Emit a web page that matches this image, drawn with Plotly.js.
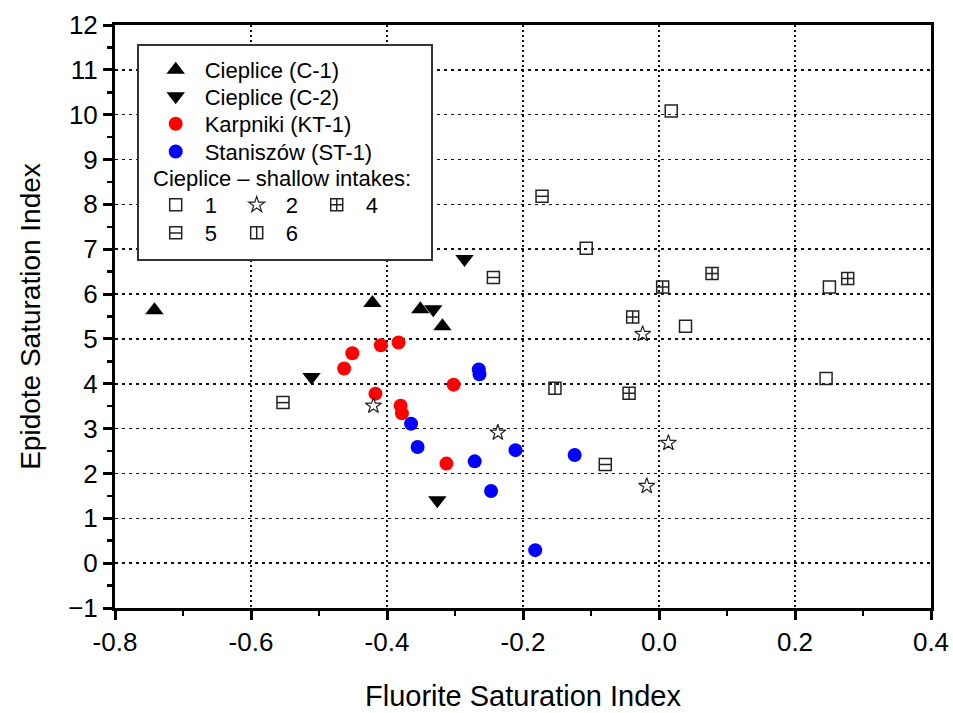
<!DOCTYPE html>
<html><head><meta charset="utf-8">
<script src="https://cdn.plot.ly/plotly-3.0.1.min.js"></script>
<style>html,body{margin:0;padding:0;background:#fff}#chart{width:953px;height:713px}</style>
</head><body><div id="chart"></div>
<script>
// Cieplice (C-1)
const c1X = [-0.742, -0.4215, -0.351, -0.3185];
const c1Y = [5.64, 5.80, 5.66, 5.28];
// Cieplice (C-2)
const c2X = [-0.286, -0.511, -0.332, -0.326];
const c2Y = [6.78, 4.15, 5.66, 1.40];
// Karpniki (KT-1)
const ktX = [-0.451, -0.463, -0.409, -0.383, -0.417, -0.380, -0.378, -0.302, -0.3126];
const ktY = [4.68, 4.34, 4.86, 4.92, 3.78, 3.51, 3.34, 3.98, 2.22];
// Staniszów (ST-1)
const stX = [-0.265, -0.264, -0.3646, -0.355, -0.271, -0.247, -0.211, -0.124, -0.182];
const stY = [4.32, 4.21, 3.11, 2.59, 2.27, 1.61, 2.52, 2.41, 0.29];
// Cieplice – shallow intakes
const s1X = [0.018, -0.107, 0.2506, 0.2457, 0.039];
const s1Y = [10.08, 7.02, 6.16, 4.12, 5.28];
const s2X = [-0.420, -0.237, 0.0138, -0.018, -0.024];
const s2Y = [3.51, 2.91, 2.68, 1.72, 5.11];
const s4X = [0.0054, 0.078, 0.2775, -0.044, -0.0387];
const s4Y = [6.16, 6.46, 6.35, 3.79, 5.49];
const s5X = [-0.172, -0.2435, -0.553, -0.079];
const s5Y = [8.18, 6.37, 3.58, 2.20];
const s6X = [-0.153];
const s6Y = [3.90];

const mainNames = ['Cieplice (C-1)', 'Cieplice (C-2)', 'Karpniki (KT-1)', 'Staniszów (ST-1)'];
const shallowTitle = 'Cieplice \u2013 shallow intakes:';
const shallowLabels = ['1', '2', '4', '5', '6'];
const xTickVals = [-0.8, -0.6, -0.4, -0.2, 0.0, 0.2, 0.4];
const xTickText = ['-0.8', '-0.6', '-0.4', '-0.2', '0.0', '0.2', '0.4'];

const FONT = 'Liberation Sans, Arial, sans-serif';
const openLine = {color: '#222', width: 1.5};

const traces = [
  {x: c1X, y: c1Y, name: mainNames[0], mode: 'markers', type: 'scatter', legend: 'legend',
   marker: {symbol: 'triangle-up', size: 16, color: '#000'}},
  {x: c2X, y: c2Y, name: mainNames[1], mode: 'markers', type: 'scatter', legend: 'legend2',
   marker: {symbol: 'triangle-down', size: 16, color: '#000'}},
  {x: ktX, y: ktY, name: mainNames[2], mode: 'markers', type: 'scatter', legend: 'legend3',
   marker: {symbol: 'circle', size: 14, color: '#ff0000'}},
  {x: stX, y: stY, name: mainNames[3], mode: 'markers', type: 'scatter', legend: 'legend4',
   marker: {symbol: 'circle', size: 14, color: '#0000ff'}},
  {x: s1X, y: s1Y, name: shallowLabels[0], mode: 'markers', type: 'scatter', legend: 'legend5',
   marker: {symbol: 'square-open', size: 12, color: '#222', line: openLine}},
  {x: s2X, y: s2Y, name: shallowLabels[1], mode: 'markers', type: 'scatter', legend: 'legend6',
   marker: {symbol: 'star-open', size: 12, color: '#222', line: {color: '#222', width: 1.2}}},
  {x: s4X, y: s4Y, name: shallowLabels[2], mode: 'markers', type: 'scatter', legend: 'legend7',
   marker: {symbol: 'square-cross-open', size: 12, color: '#222', line: openLine}},
  {x: s5X, y: s5Y, name: shallowLabels[3], mode: 'markers', type: 'scatter', legend: 'legend8',
   marker: {symbol: 'square-open', size: 12, color: '#222', line: openLine}},
  {x: s5X, y: s5Y, name: shallowLabels[3], mode: 'markers', type: 'scatter', showlegend: false, hoverinfo: 'skip',
   marker: {symbol: 'line-ew-open', size: 8.6, color: '#222', line: openLine}},
  {x: s6X, y: s6Y, name: shallowLabels[4], mode: 'markers', type: 'scatter', legend: 'legend9',
   marker: {symbol: 'square-open', size: 12, color: '#222', line: openLine}},
  {x: s6X, y: s6Y, name: shallowLabels[4], mode: 'markers', type: 'scatter', showlegend: false, hoverinfo: 'skip',
   marker: {symbol: 'line-ns-open', size: 8.6, color: '#222', line: openLine}}
];

// legend geometry helpers (paper coordinates)
const px2x = p => (p - 115) / 816;
const py2y = p => (608 - p) / 583;
const ITEMW = 48;
const symOff = 5 + ITEMW / 2;   // symbol centre offset from legend left
const topOff = 21;              // item centre offset from legend top
const legFont = {family: FONT, size: 22, color: '#000'};
function mkLeg(symX, rowY) {
  return {x: px2x(symX - symOff), y: py2y(rowY - topOff), xanchor: 'left', yanchor: 'top',
    bgcolor: 'rgba(0,0,0,0)', borderwidth: 0, font: legFont, itemwidth: ITEMW};
}
const mainRows = [70, 96.5, 124, 151.7];
const shRows = [205, 233];
const symCols = [175.7, 256.7, 336.7];

const layout = {
  width: 953, height: 713,
  margin: {l: 115, r: 22, t: 25, b: 105},
  paper_bgcolor: '#fff', plot_bgcolor: '#fff',
  font: {family: FONT, color: '#000'},
  showlegend: true,
  legend: mkLeg(symCols[0], mainRows[0]),
  legend2: mkLeg(symCols[0], mainRows[1]),
  legend3: mkLeg(symCols[0], mainRows[2]),
  legend4: mkLeg(symCols[0], mainRows[3]),
  legend5: mkLeg(symCols[0], shRows[0]),
  legend6: mkLeg(symCols[1], shRows[0]),
  legend7: mkLeg(symCols[2], shRows[0]),
  legend8: mkLeg(symCols[0], shRows[1]),
  legend9: mkLeg(symCols[1], shRows[1]),
  xaxis: {
    range: [-0.8, 0.4], tickvals: xTickVals, ticktext: xTickText,
    showline: true, linewidth: 3, linecolor: '#000', mirror: true,
    ticks: 'outside', ticklen: 9, tickwidth: 3, tickcolor: '#000',
    tickfont: {family: FONT, size: 26, color: '#000'},
    showgrid: true, gridcolor: '#111', gridwidth: 1.5, griddash: '2px,3px',
    zeroline: false,
    minor: {dtick: 0.1, ticks: 'outside', ticklen: 5, tickwidth: 2.5, tickcolor: '#000', showgrid: false},
    title: {text: 'Fluorite Saturation Index', font: {family: FONT, size: 29, color: '#000'}, standoff: 30},
    automargin: false
  },
  yaxis: {
    range: [-1, 12], dtick: 1, tick0: 0,
    showline: true, linewidth: 3, linecolor: '#000', mirror: true,
    ticks: 'outside', ticklen: 9, tickwidth: 3, tickcolor: '#000',
    tickfont: {family: FONT, size: 26, color: '#000'},
    showgrid: true, gridcolor: '#111', gridwidth: 1.5, griddash: '3px,4px',
    zeroline: false,
    minor: {dtick: 0.5, ticks: 'outside', ticklen: 5, tickwidth: 2.5, tickcolor: '#000', showgrid: false},
    title: {text: 'Epidote Saturation Index', font: {family: FONT, size: 28, color: '#000'}, standoff: 20},
    automargin: false
  },
  shapes: [
    {type: 'rect', xref: 'paper', yref: 'paper', x0: px2x(138), x1: px2x(432), y0: py2y(260), y1: py2y(45),
     line: {color: '#333', width: 2}, fillcolor: '#fff', layer: 'above'},
    // inner strokes of legend keys 5 and 6
    {type: 'line', xref: 'paper', yref: 'paper', x0: px2x(symCols[0] - 6), x1: px2x(symCols[0] + 6),
     y0: py2y(shRows[1]), y1: py2y(shRows[1]), line: {color: '#222', width: 1.5}, layer: 'above'},
    {type: 'line', xref: 'paper', yref: 'paper', x0: px2x(symCols[1]), x1: px2x(symCols[1]),
     y0: py2y(shRows[1] - 6), y1: py2y(shRows[1] + 6), line: {color: '#222', width: 1.5}, layer: 'above'}
  ],
  annotations: [
    {xref: 'paper', yref: 'paper', x: px2x(151), y: py2y(178), xanchor: 'left', yanchor: 'middle',
     text: shallowTitle, showarrow: false, font: legFont}
  ]
};

Plotly.newPlot('chart', traces, layout, {displayModeBar: false, staticPlot: true});
</script></body></html>
